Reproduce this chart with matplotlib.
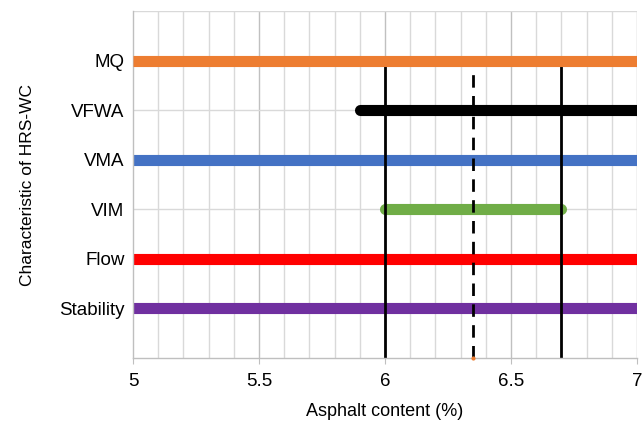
import numpy as np
import matplotlib.pyplot as plt

plt.rcParams['font.family'] = ['Liberation Sans', 'DejaVu Sans']

# data
labels = ['Stability', 'Flow', 'VIM', 'VMA', 'VFWA', 'MQ']
y_pos = [1, 2, 3, 4, 5, 6]
x_start = [5.0, 5.0, 6.0, 5.0, 5.9, 5.0]
x_end = [7.0, 7.0, 6.7, 7.0, 7.0, 7.0]
colors = ['#7030A0', '#FF0000', '#70AD47', '#4472C4', '#000000', '#ED7D31']
caps = ['butt', 'butt', 'round', 'butt', 'round', 'butt']
limits = [6.0, 6.7]
optimum = 6.35

fig = plt.figure(figsize=(6.43, 4.21), dpi=100)
ax = fig.add_axes([0.2068, 0.1496, 0.7839, 0.8243])

ax.set_xlim(5, 7)
ax.set_ylim(0, 7)

# grid
for x in np.arange(5.1, 7.0, 0.1):
    major = abs(x * 2 - round(x * 2)) < 1e-6
    ax.axvline(x, color='#c0c0c0' if major else '#d9d9d9', lw=1, zorder=0)
for y in [1, 3, 5, 7]:
    ax.axhline(y, color='#d9d9d9', lw=1, zorder=0)

# vertical limit lines
for x in limits:
    ax.plot([x, x], [0, 6], color='black', lw=2, zorder=2)
ax.plot([optimum, optimum], [0, 6], color='black', lw=2, ls=(0, (4.5, 3)), zorder=2)

for y, a, b, c, cap in zip(y_pos, x_start, x_end, colors, caps):
    z = 3 if y == 6 else 1
    ax.plot([a, b], [y, y], color=c, lw=8, solid_capstyle=cap, zorder=z, clip_on=True)

ax.plot([optimum], [0], marker='o', ms=2, color='#ED7D31', zorder=3, clip_on=False)

ax.set_xticks([5, 5.5, 6, 6.5, 7])
ax.set_xticklabels(['5', '5.5', '6', '6.5', '7'])
ax.set_yticks(y_pos)
ax.set_yticklabels(labels)
ax.tick_params(axis='x', length=4, color='#bfbfbf', labelsize=13.5, pad=7)
ax.tick_params(axis='y', length=0, labelsize=13.5, pad=6)

for s in ['top', 'right']:
    ax.spines[s].set_visible(False)
for s in ['left', 'bottom']:
    ax.spines[s].set_color('#bfbfbf')
    ax.spines[s].set_linewidth(1)

ax.set_xlabel('Asphalt content (%)', fontsize=13, labelpad=9)
ax.set_ylabel('Characteristic of HRS-WC', fontsize=12.5)
ax.yaxis.set_label_coords(-0.195, 0.5)

fig.savefig('out.png', dpi=100)
